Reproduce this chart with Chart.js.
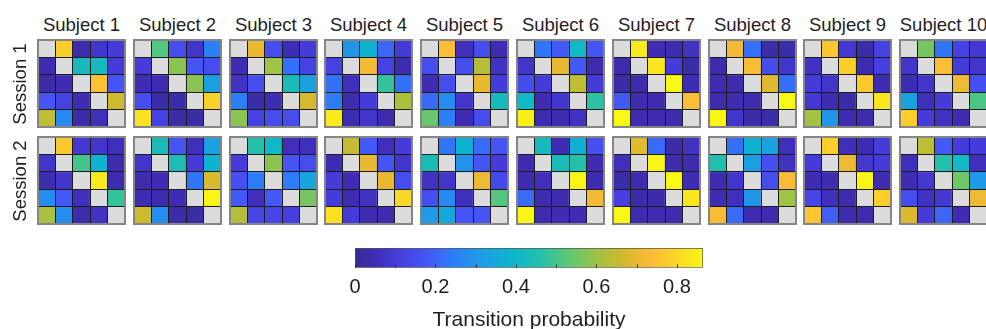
<!DOCTYPE html>
<html>
<head>
<meta charset="utf-8">
<script src="https://cdn.jsdelivr.net/npm/chart.js@4/dist/chart.umd.min.js"></script>
<style>
  html, body { margin: 0; padding: 0; background: #fff; }
  #fig { position: relative; width: 986px; height: 329px; overflow: hidden; font-family: "Liberation Sans", Arial, Helvetica, sans-serif; color: #1e1e1e; }
  .tile { position: absolute; outline: 2px solid #858585; outline-offset: -1px; }
  .subj { position: absolute; width: 110px; text-align: center; font-size: 18.5px; line-height: 18.5px; white-space: nowrap; }
  .sess { position: absolute; width: 110px; height: 20px; line-height: 20px; text-align: center; font-size: 18.5px; transform: rotate(-90deg); white-space: nowrap; }
  #cb { position: absolute; left: 300px; top: 238px; }
</style>
</head>
<body>
<div id="fig"></div>
<script>
const subjects = ["Subject 1", "Subject 2", "Subject 3", "Subject 4", "Subject 5",
                  "Subject 6", "Subject 7", "Subject 8", "Subject 9", "Subject 10"];
const sessions = ["Session 1", "Session 2"];
const states = ["1", "2", "3", "4", "5"];

// transition matrices, row = from-state, col = to-state, null on the diagonal
const session1 = [
  [[null,0.78,0.04,0.08,0.10],[0.05,null,0.42,0.42,0.10],[0.03,0.05,null,0.75,0.17],[0.17,0.12,0.05,null,0.66],[0.64,0.27,0.03,0.06,null]],
  [[null,0.52,0.15,0.08,0.25],[0.10,null,0.58,0.17,0.15],[0.05,0.05,null,0.58,0.32],[0.15,0.03,0.03,null,0.79],[0.82,0.12,0.03,0.03,null]],
  [[null,0.70,0.15,0.05,0.10],[0.05,null,0.60,0.22,0.12],[0.07,0.15,null,0.43,0.33],[0.25,0.03,0.05,null,0.67],[0.58,0.12,0.15,0.15,null]],
  [[null,0.30,0.38,0.20,0.10],[0.12,null,0.72,0.12,0.04],[0.22,0.06,null,0.48,0.22],[0.24,0.04,0.10,null,0.62],[0.84,0.04,0.08,0.04,null]],
  [[null,0.74,0.06,0.15,0.05],[0.15,null,0.15,0.63,0.07],[0.05,0.15,null,0.70,0.10],[0.21,0.28,0.08,null,0.42],[0.54,0.25,0.05,0.15,null]],
  [[null,0.23,0.18,0.40,0.17],[0.08,null,0.70,0.18,0.04],[0.15,0.10,null,0.64,0.10],[0.40,0.05,0.08,null,0.47],[0.85,0.04,0.04,0.07,null]],
  [[null,0.84,0.05,0.04,0.07],[0.04,null,0.83,0.10,0.03],[0.03,0.04,null,0.88,0.05],[0.18,0.04,0.04,null,0.74],[0.87,0.04,0.04,0.04,null]],
  [[null,0.72,0.22,0.03,0.03],[0.04,null,0.73,0.15,0.08],[0.05,0.04,null,0.69,0.22],[0.04,0.05,0.04,null,0.87],[0.86,0.08,0.03,0.03,null]],
  [[null,0.76,0.09,0.03,0.12],[0.07,null,0.78,0.04,0.11],[0.10,0.08,null,0.77,0.05],[0.09,0.05,0.03,null,0.83],[0.61,0.30,0.05,0.04,null]],
  [[null,0.56,0.23,0.12,0.09],[0.08,null,0.74,0.10,0.08],[0.05,0.08,null,0.71,0.16],[0.33,0.06,0.10,null,0.51],[0.78,0.10,0.07,0.05,null]]
];
const session2 = [
  [[null,0.77,0.09,0.08,0.06],[0.08,null,0.50,0.38,0.04],[0.04,0.08,null,0.84,0.04],[0.28,0.18,0.06,null,0.48],[0.62,0.28,0.04,0.07,null]],
  [[null,0.43,0.17,0.06,0.33],[0.08,null,0.44,0.10,0.38],[0.04,0.05,null,0.23,0.68],[0.05,0.04,0.05,null,0.86],[0.66,0.28,0.03,0.03,null]],
  [[null,0.46,0.40,0.06,0.06],[0.10,null,0.58,0.17,0.15],[0.16,0.24,null,0.24,0.34],[0.18,0.06,0.18,null,0.56],[0.63,0.13,0.13,0.11,null]],
  [[null,0.65,0.18,0.06,0.10],[0.05,null,0.70,0.17,0.08],[0.10,0.05,null,0.70,0.15],[0.10,0.04,0.07,null,0.80],[0.82,0.10,0.04,0.04,null]],
  [[null,0.23,0.38,0.21,0.17],[0.43,null,0.29,0.17,0.10],[0.07,0.08,null,0.71,0.14],[0.15,0.27,0.06,null,0.52],[0.31,0.35,0.17,0.17,null]],
  [[null,0.42,0.05,0.37,0.16],[0.05,null,0.43,0.46,0.05],[0.04,0.06,null,0.86,0.04],[0.21,0.04,0.04,null,0.72],[0.86,0.04,0.05,0.05,null]],
  [[null,0.69,0.21,0.03,0.07],[0.06,null,0.86,0.04,0.04],[0.03,0.04,null,0.87,0.05],[0.11,0.03,0.03,null,0.83],[0.87,0.04,0.04,0.04,null]],
  [[null,0.22,0.38,0.33,0.06],[0.45,null,0.32,0.16,0.07],[0.05,0.08,null,0.15,0.73],[0.05,0.06,0.30,null,0.60],[0.73,0.21,0.04,0.04,null]],
  [[null,0.78,0.06,0.05,0.10],[0.10,null,0.71,0.09,0.10],[0.05,0.05,null,0.86,0.05],[0.13,0.06,0.04,null,0.78],[0.76,0.19,0.04,0.04,null]],
  [[null,0.64,0.18,0.10,0.10],[0.06,null,0.46,0.40,0.06],[0.05,0.09,null,0.55,0.31],[0.15,0.07,0.09,null,0.71],[0.68,0.10,0.20,0.05,null]]
];
const cbMin = 0;
const cbMax = 0.865;

// parula-like colormap stops (t in 0..1)
const parula = [
  [0.00, [56, 42, 150]], [0.06, [62, 45, 180]], [0.12, [70, 60, 220]], [0.20, [70, 85, 245]],
  [0.28, [45, 125, 250]], [0.36, [30, 155, 230]], [0.45, [12, 182, 205]], [0.53, [35, 192, 170]],
  [0.61, [90, 200, 120]], [0.69, [155, 195, 70]], [0.77, [210, 185, 45]], [0.85, [252, 188, 55]],
  [0.92, [250, 212, 40]], [1.00, [249, 248, 20]]
];
const DIAG = "#dcdcdc";
const FONT = "'Liberation Sans', Arial, sans-serif";

function cmap(v) {
  const t = Math.max(0, Math.min(1, (v - cbMin) / (cbMax - cbMin)));
  for (let k = 1; k < parula.length; k++) {
    if (t <= parula[k][0]) {
      const [t0, c0] = parula[k - 1], [t1, c1] = parula[k];
      const f = (t - t0) / (t1 - t0);
      const c = c0.map((a, j) => Math.round(a + (c1[j] - a) * f));
      return `rgb(${c[0]},${c[1]},${c[2]})`;
    }
  }
  return "rgb(249,248,20)";
}

const fig = document.getElementById("fig");
const X0 = 38, DX = 95.8, SIZE = 87, ROW_TOP = [40, 137];

function heatmap(matrix, left, top) {
  const cv = document.createElement("canvas");
  cv.width = SIZE; cv.height = SIZE;
  cv.className = "tile";
  cv.style.left = left + "px";
  cv.style.top = top + "px";
  fig.appendChild(cv);
  new Chart(cv, {
    type: "bar",
    data: {
      labels: states,
      // each row is a stack level; cell colour carries the probability
      datasets: matrix.map(row => ({
        data: row.map(() => 1),
        backgroundColor: row.map(v => v === null ? DIAG : cmap(v)),
        borderWidth: 0,
        barPercentage: 1,
        categoryPercentage: 1
      }))
    },
    options: {
      responsive: false, animation: false, events: [],
      layout: { padding: 0 },
      plugins: { legend: { display: false }, tooltip: { enabled: false } },
      scales: {
        x: { stacked: true, grid: { z: 1, color: "#1c1c1c", lineWidth: 1, drawTicks: false, offset: true },
             ticks: { display: false }, border: { display: false } },
        y: { stacked: true, reverse: true, min: 0, max: 5,
             grid: { z: 1, color: "#1c1c1c", lineWidth: 1, drawTicks: false },
             ticks: { display: false, stepSize: 1 }, border: { display: false } }
      }
    }
  });
}

subjects.forEach((name, i) => {
  const left = Math.round(X0 + i * DX);
  const t = document.createElement("div");
  t.className = "subj";
  t.textContent = name;
  t.style.left = (left + SIZE / 2 - 55) + "px";
  t.style.top = "16px";
  fig.appendChild(t);
  heatmap(session1[i], left, ROW_TOP[0]);
  heatmap(session2[i], left, ROW_TOP[1]);
});

sessions.forEach((name, s) => {
  const d = document.createElement("div");
  d.className = "sess";
  d.textContent = name;
  d.style.left = (19.5 - 55) + "px";
  d.style.top = (ROW_TOP[s] + SIZE / 2 - 10) + "px";
  fig.appendChild(d);
});

// colorbar
const cb = document.createElement("canvas");
cb.id = "cb"; cb.width = 460; cb.height = 95;
fig.appendChild(cb);

const innerTicks = {
  id: "innerTicks",
  afterDatasetsDraw(chart) {
    const { ctx, chartArea, scales } = chart;
    ctx.save();
    ctx.strokeStyle = "#333";
    ctx.lineWidth = 1;
    scales.x.ticks.forEach(t => {
      const x = Math.round(scales.x.getPixelForValue(t.value)) + 0.5;
      ctx.beginPath();
      ctx.moveTo(x, chartArea.bottom);
      ctx.lineTo(x, chartArea.bottom - 3.5);
      ctx.stroke();
    });
    ctx.restore();
  }
};

new Chart(cb, {
  type: "bar",
  data: {
    labels: ["p"],
    datasets: [{
      data: [[cbMin, cbMax]],
      backgroundColor(ctx) {
        const chart = ctx.chart;
        if (!chart.chartArea) return "#888";
        const x = chart.scales.x;
        const g = chart.ctx.createLinearGradient(x.getPixelForValue(cbMin), 0, x.getPixelForValue(cbMax), 0);
        parula.forEach(([t, c]) => g.addColorStop(t, `rgb(${c[0]},${c[1]},${c[2]})`));
        return g;
      },
      borderColor: "#555",
      borderWidth: 1,
      borderSkipped: false,
      barPercentage: 1,
      categoryPercentage: 1
    }]
  },
  options: {
    indexAxis: "y",
    responsive: false, animation: false, events: [],
    layout: { padding: { left: 55, right: 57, top: 10, bottom: 0 } },
    plugins: {
      legend: { display: false }, tooltip: { enabled: false },
      title: {
        display: true, position: "bottom", text: "Transition probability", color: "#1e1e1e",
        font: { family: FONT, size: 21, weight: "normal" }, padding: { top: 0, bottom: 0 }
      }
    },
    scales: {
      x: {
        type: "linear", min: cbMin, max: cbMax,
        grid: { display: false, drawTicks: false }, border: { display: false },
        ticks: {
          stepSize: 0.1, includeBounds: false, autoSkip: false, maxRotation: 0, padding: 10,
          color: "#1e1e1e", font: { family: FONT, size: 20, lineHeight: 1 },
          callback: v => { const k = Math.round(v * 10); return k % 2 === 0 ? String(k / 10) : ""; }
        }
      },
      y: { display: false }
    }
  },
  plugins: [innerTicks]
});
</script>
</body>
</html>
